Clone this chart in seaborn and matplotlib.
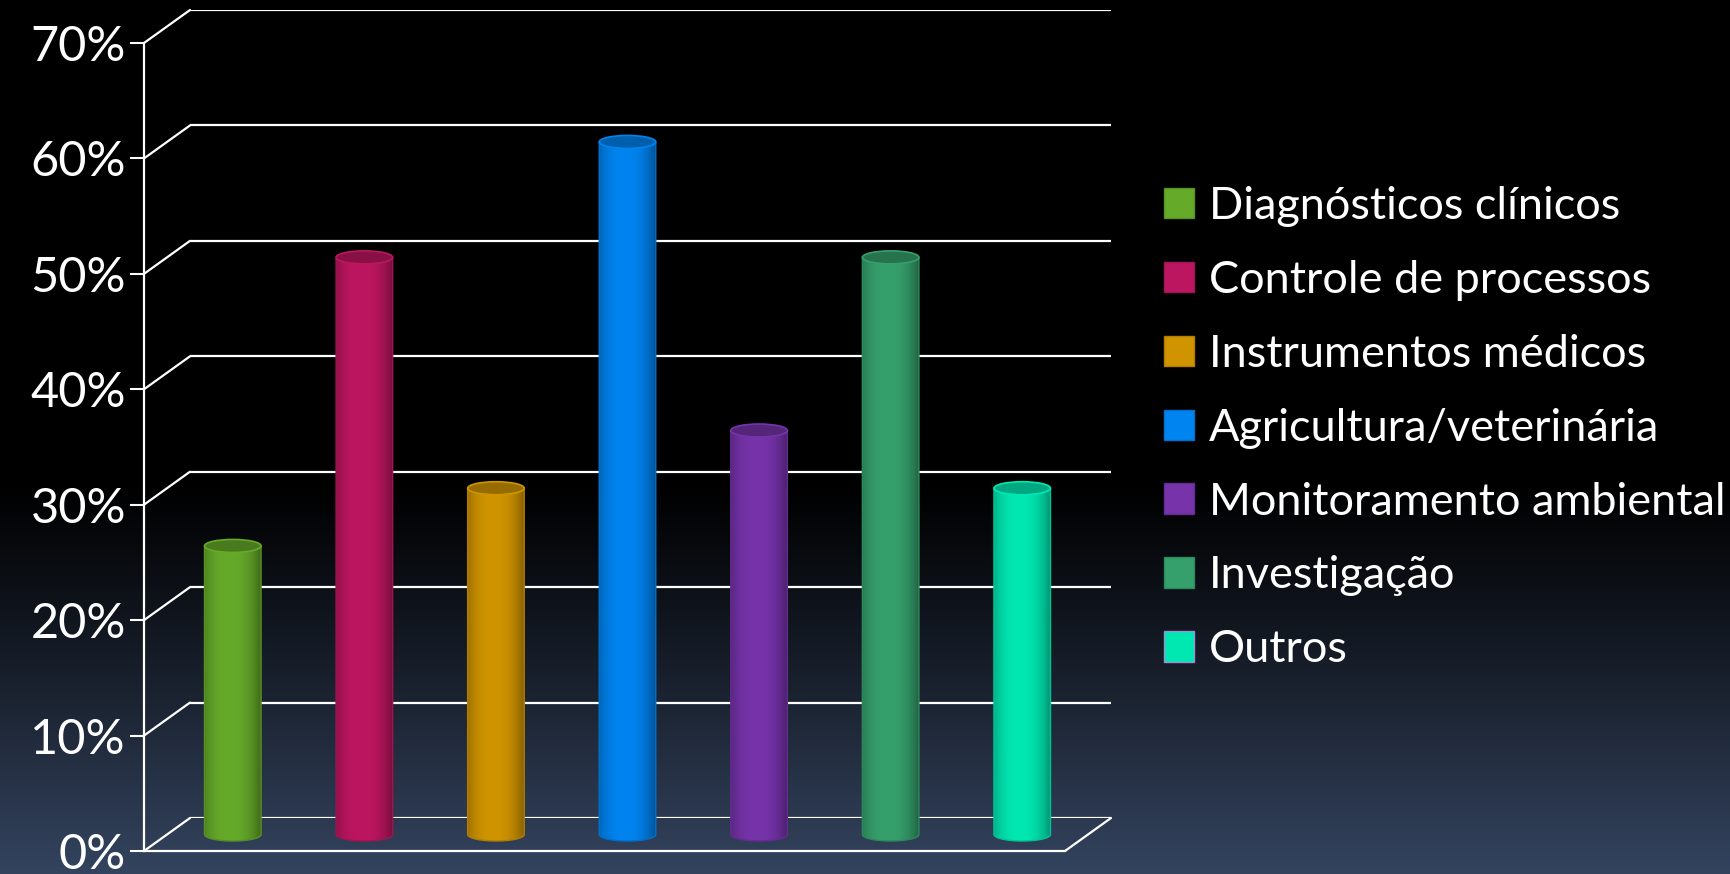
import matplotlib
matplotlib.use("Agg")
import matplotlib.pyplot as plt
from matplotlib.patches import Ellipse, PathPatch, ConnectionPatch
from matplotlib.path import Path
import matplotlib.colors as mcolors
import numpy as np
import seaborn as sns

# Chart data
categories = ["Diagnósticos clínicos", "Controle de processos", "Instrumentos médicos",
              "Agricultura/veterinária", "Monitoramento ambiental", "Investigação", "Outros"]
shares = [25, 50, 30, 60, 35, 50, 30]
bar_colors = ["#66aa2a", "#bd1660", "#d09400", "#0084f0", "#7633aa", "#36a06c", "#00e8b2"]
y_ticks = [0, 10, 20, 30, 40, 50, 60, 70]
tick_labels = [f"{t}%" for t in y_ticks]

W, H, DPI = 1731, 874, 100

sns.set_theme(style="dark")
plt.rcParams["font.family"] = ["Lato", "DejaVu Sans"]

fig = plt.figure(figsize=(W / DPI, H / DPI), dpi=DPI)


def px_axes(left, bottom, width, height, z):
    ax = fig.add_axes([left / W, bottom / H, width / W, height / H], zorder=z)
    ax.set_facecolor("none")
    return ax


# dark gradient background
bg = px_axes(0, 0, W, H, 0)
t = np.linspace(0, 1, H)
k = np.clip((t - 0.55) / 0.45, 0, 1) ** 1.1
bottom_rgb = np.array(mcolors.to_rgb("#34445f"))
img = (k[:, None] * bottom_rgb[None, :])[:, None, :]
bg.imshow(img, aspect="auto", extent=(0, 1, 0, 1))
bg.axis("off")

# 3D-ish frame: back wall, bar plane, front plane
pw, ph = 921, 808
back = px_axes(190, 56, pw, ph, 1)
mid = px_axes(167, 39.5, pw, ph, 2)
front = px_axes(144, 23, pw, ph, 3)

for ax in (back, mid, front):
    ax.set_xlim(-0.5, len(categories) - 0.5)
    ax.set_ylim(0, 70)

# back wall gridlines
back.set_yticks(y_ticks)
back.set_xticks([])
back.tick_params(left=False, labelleft=False)
back.grid(axis="y", color="white", lw=1.6)
for s in back.spines.values():
    s.set_visible(False)

# front axis with ticks and labels
front.set_xticks([])
front.set_yticks(y_ticks)
front.set_yticklabels(tick_labels)
front.tick_params(axis="y", colors="white", labelcolor="white", direction="out",
                  length=10, width=1.5, pad=3, labelsize=35, left=True)
for name, s in front.spines.items():
    if name in ("left", "bottom"):
        s.set_color("white")
        s.set_linewidth(1.6)
    else:
        s.set_visible(False)

# diagonals linking front axis and back wall
for v in y_ticks:
    front.add_artist(ConnectionPatch(xyA=(-0.5, v), coordsA=front.transData,
                                     xyB=(-0.5, v), coordsB=back.transData,
                                     color="white", lw=1.6))
front.add_artist(ConnectionPatch(xyA=(len(categories) - 0.5, 0), coordsA=front.transData,
                                 xyB=(len(categories) - 0.5, 0), coordsB=back.transData,
                                 color="white", lw=1.6))

# bars
sns.barplot(x=categories, y=shares, hue=categories, palette=bar_colors, width=0.43,
            saturation=1, ax=mid, legend=True)
mid.set_xlim(-0.5, len(categories) - 0.5)
mid.set_ylim(0, 70)

# turn the flat bars into cylinders
px_per_unit = mid.transData.transform((0, 1))[1] - mid.transData.transform((0, 0))[1]
eh = 13 / px_per_unit
tt = np.linspace(0, 1, 200)
prof = 1 - 0.38 * (np.abs(tt - 0.45) / 0.55) ** 2.5
bars = [p for p in mid.patches if p.get_height() > 0 and p.get_width() > 0]
for p in list(mid.patches):
    p.set_visible(False)
for p in bars:
    x0, w, h = p.get_x(), p.get_width(), p.get_height()
    base = np.array(p.get_facecolor()[:3])
    xc = x0 + w / 2
    rgb = np.clip(base[None, :] * prof[:, None], 0, 1)[None, :, :]
    th = np.linspace(np.pi, 2 * np.pi, 60)
    verts = [(x0, h), (x0, 0)] + [(xc + w / 2 * np.cos(a), eh / 2 * np.sin(a)) for a in th] \
        + [(x0 + w, h), (x0, h)]
    outline = PathPatch(Path(verts), transform=mid.transData, facecolor="none",
                        edgecolor=base * 0.85, lw=1.0, zorder=3, clip_on=False)
    im = mid.imshow(rgb, extent=(x0, x0 + w, -eh / 2, h), aspect="auto",
                    interpolation="bilinear", zorder=2)
    im.set_clip_box(fig.bbox)
    im.set_clip_path(outline)
    mid.add_patch(outline)
    mid.add_patch(Ellipse((xc, h), w, eh, facecolor=base * 0.72, edgecolor=base,
                          lw=1.2, zorder=4))

mid.set_xlim(-0.5, len(categories) - 0.5)
mid.set_ylim(0, 70)
mid.set_aspect("auto")
mid.axis("off")

# legend
sns.move_legend(mid, "center left", bbox_to_anchor=(1.083, 0.503), frameon=False,
                fontsize=32.5, handlelength=0.66, handleheight=0.66, handletextpad=0.33,
                labelspacing=0.73, borderaxespad=0, borderpad=0, labelcolor="white", title=None)
leg = mid.get_legend()
for hnd, c in zip(leg.legend_handles, bar_colors):
    hnd.set_edgecolor(np.array(mcolors.to_rgb(c)) * 0.85)
    hnd.set_linewidth(1)
leg.legend_handles[-1].set_edgecolor("#9a90d8")

fig.savefig("out.png", dpi=DPI)
